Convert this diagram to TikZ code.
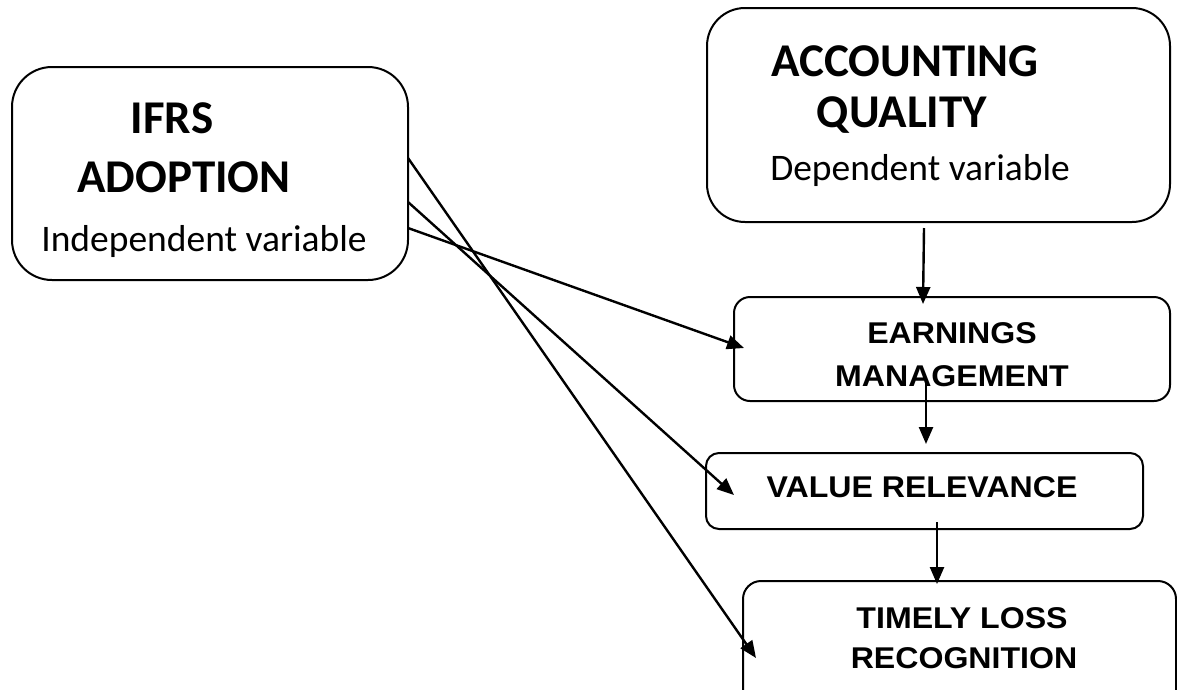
\documentclass[tikz,border=0pt]{standalone}
\usepackage{fontspec}
\setmainfont{Carlito}
\newfontfamily\arialb{Liberation Sans}[FakeStretch=1.07]
\newfontfamily\calib{Carlito}
\usetikzlibrary{arrows.meta}
\begin{document}
\begin{tikzpicture}[x=1pt,y=-1pt,
  box/.style={draw,line width=2pt,rounded corners=#1,inner sep=0pt},
  box/.default=15pt,
  big/.style={font=\calib\fontsize{47}{47}\selectfont\bfseries,inner sep=0pt,anchor=base},
  sub/.style={font=\calib\fontsize{37.5}{37.5}\selectfont,inner sep=0pt,anchor=base},
  lab/.style={font=\arialb\fontsize{30}{30}\selectfont\bfseries,inner sep=0pt,anchor=base},
  arr/.style={line width=2.4pt,-{Triangle[length=17pt,width=14pt]}}]
\useasboundingbox (0,0) rectangle (1177,689);
\fill[white] (0,0) rectangle (1177,689);
% boxes
\node[box=40pt,minimum width=396pt,minimum height=213pt] (ifrs) at (210,173.5) {};
\node[box=38pt,minimum width=463pt,minimum height=214pt] (aq) at (938.5,115) {};
\node[box=16pt,minimum width=436pt,minimum height=104pt] (em) at (952,349) {};
\node[box=13pt,minimum width=437pt,minimum height=76pt] (vr) at (924.5,491) {};
\node[box=18pt,minimum width=433pt,minimum height=130pt] (tl) at (959.5,646) {};
% texts
\node[big] (t1) at (172,133) {IFRS};
\node[big] (t2) at (184,192) {ADOPTION};
\node[sub] (t3) at (204,251) {Independent variable};
\node[big] (t4) at (905,76) {ACCOUNTING};
\node[big] (t5) at (902,127) {QUALITY};
\node[sub] (t6) at (920,180) {Dependent variable};
\node[lab] (t7) at (952,343) {EARNINGS};
\node[lab] (t8) at (952,386) {MANAGEMENT};
\node[lab] (t9) at (922,497) {VALUE RELEVANCE};
\node[lab] (t10) at (962,628) {TIMELY LOSS};
\node[lab] (t11) at (964,668) {RECOGNITION};
% connector end points
\coordinate (s1) at (408,228);
\coordinate (e1) at (744,348);
\coordinate (s2) at (408,202);
\coordinate (e2) at (734,495);
\coordinate (s3) at (408,158);
\coordinate (e3) at (756,658);
\coordinate (s4) at (924,228);
\coordinate (e4) at (923,304);
\coordinate (s5) at (926,378);
\coordinate (e5) at (926,444);
\coordinate (s6) at (937,522);
\coordinate (e6) at (937,584);
\draw[arr] (s1) -- (e1);
\draw[arr] (s2) -- (e2);
\draw[arr] (s3) -- (e3);
\draw[arr] (s4) -- (e4);
\draw[arr] (s5) -- (e5);
\draw[arr] (s6) -- (e6);
\end{tikzpicture}
\end{document}
